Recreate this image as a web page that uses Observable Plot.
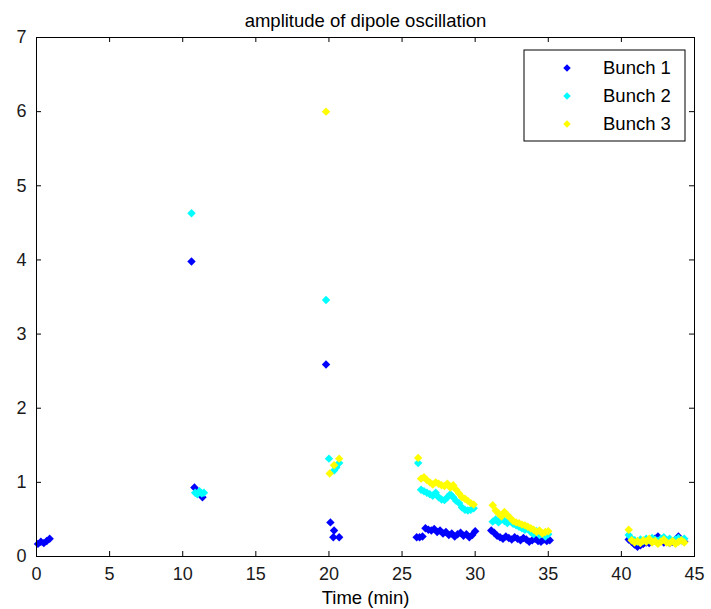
<!DOCTYPE html>
<html>
<head>
<meta charset="utf-8">
<script src="https://cdn.jsdelivr.net/npm/d3@7"></script>
<script src="https://cdn.jsdelivr.net/npm/@observablehq/plot@0.6"></script>
<style>
  html, body { margin: 0; padding: 0; background: #fff; }
  #chart { width: 711px; height: 609px; }
</style>
</head>
<body>
<div id="chart"></div>
<script>
const titleText = "amplitude of dipole oscillation";
const xLabelText = "Time (min)";
const seriesNames = ["Bunch 1", "Bunch 2", "Bunch 3"];
const seriesColors = ["#0000ff", "#00ffff", "#ffff00"];
const xTicks = [0, 5, 10, 15, 20, 25, 30, 35, 40, 45];
const yTicks = [0, 1, 2, 3, 4, 5, 6, 7];

const bunch1Time = [0.1, 0.3, 0.5, 0.7, 0.9, 10.6, 10.8, 11.0, 11.2, 11.35, 19.8, 20.1, 20.35, 20.3, 20.7,
  26.0, 26.2, 26.4, 26.6, 26.8, 27.0, 27.2, 27.4, 27.6, 27.8, 28.0, 28.2, 28.4, 28.6, 28.8, 29.0, 29.2, 29.4, 29.6, 29.8, 30.0,
  31.1, 31.3, 31.5, 31.7, 31.9, 32.1, 32.3, 32.5, 32.7, 32.9, 33.1, 33.3, 33.5, 33.7, 33.9, 34.1, 34.3, 34.5, 34.7, 34.9, 35.1,
  40.5, 40.7, 40.9, 41.1, 41.3, 41.5, 41.7, 41.9, 42.1, 42.3, 42.5, 42.7, 42.9, 43.1, 43.3, 43.5, 43.7, 43.9, 44.1, 44.3];
const bunch1Value = [0.17, 0.20, 0.18, 0.21, 0.24, 3.98, 0.93, 0.87, 0.84, 0.80, 2.59, 0.46, 0.35, 0.26, 0.26,
  0.26, 0.26, 0.27, 0.38, 0.36, 0.35, 0.37, 0.33, 0.35, 0.31, 0.33, 0.29, 0.31, 0.27, 0.30, 0.32, 0.28, 0.30, 0.26, 0.29, 0.34,
  0.35, 0.32, 0.28, 0.26, 0.24, 0.27, 0.25, 0.23, 0.26, 0.24, 0.22, 0.25, 0.23, 0.20, 0.22, 0.24, 0.21, 0.20, 0.23, 0.21, 0.22,
  0.23, 0.20, 0.16, 0.13, 0.15, 0.17, 0.19, 0.18, 0.21, 0.24, 0.27, 0.22, 0.19, 0.21, 0.18, 0.20, 0.23, 0.27, 0.22, 0.20];

const bunch2Time = [10.6, 10.85, 11.0, 11.15, 11.3, 11.45, 19.8, 20.0, 20.35, 20.5, 20.7,
  26.1, 26.3, 26.5, 26.7, 26.9, 27.1, 27.3, 27.5, 27.7, 27.9, 28.1, 28.3, 28.5, 28.7, 28.9, 29.1, 29.3, 29.5, 29.7, 29.9,
  31.2, 31.4, 31.6, 31.8, 32.0, 32.2, 32.4, 32.6, 32.8, 33.0, 33.2, 33.4, 33.6, 33.8, 34.0, 34.2, 34.4, 34.6, 34.8, 35.0,
  40.5, 40.7, 40.9, 41.1, 41.3, 41.5, 41.7, 41.9, 42.1, 42.3, 42.5, 42.7, 42.9, 43.1, 43.3, 43.5, 43.7, 43.9, 44.1, 44.3];
const bunch2Value = [4.63, 0.86, 0.84, 0.88, 0.85, 0.86, 3.46, 1.32, 1.16, 1.20, 1.26,
  1.26, 0.90, 0.88, 0.86, 0.84, 0.82, 0.86, 0.80, 0.77, 0.76, 0.80, 0.84, 0.80, 0.75, 0.72, 0.66, 0.63, 0.62, 0.63, 0.65,
  0.47, 0.50, 0.46, 0.52, 0.48, 0.45, 0.50, 0.44, 0.42, 0.40, 0.38, 0.36, 0.38, 0.33, 0.30, 0.34, 0.29, 0.31, 0.27, 0.30,
  0.29, 0.24, 0.22, 0.20, 0.23, 0.21, 0.24, 0.22, 0.25, 0.23, 0.21, 0.24, 0.26, 0.22, 0.24, 0.21, 0.23, 0.25, 0.22, 0.24];

const bunch3Time = [19.8, 20.05, 20.35, 20.7,
  26.1, 26.3, 26.5, 26.7, 26.9, 27.1, 27.3, 27.5, 27.7, 27.9, 28.1, 28.3, 28.5, 28.7, 28.9, 29.1, 29.3, 29.5, 29.7, 29.9,
  31.2, 31.4, 31.6, 31.8, 32.0, 32.2, 32.4, 32.6, 32.8, 33.0, 33.2, 33.4, 33.6, 33.8, 34.0, 34.2, 34.4, 34.6, 34.8, 35.0,
  40.5, 40.7, 40.9, 41.1, 41.3, 41.5, 41.7, 41.9, 42.1, 42.3, 42.5, 42.7, 42.9, 43.1, 43.3, 43.5, 43.7, 43.9, 44.1, 44.3];
const bunch3Value = [6.0, 1.12, 1.23, 1.32,
  1.33, 1.05, 1.07, 1.03, 1.00, 0.97, 1.00, 0.98, 0.96, 0.95, 0.98, 0.93, 0.96, 0.90, 0.85, 0.80, 0.78, 0.75, 0.72, 0.70,
  0.69, 0.62, 0.58, 0.54, 0.60, 0.56, 0.52, 0.48, 0.46, 0.45, 0.43, 0.42, 0.40, 0.38, 0.36, 0.33, 0.35, 0.31, 0.33, 0.34,
  0.36, 0.22, 0.19, 0.21, 0.18, 0.22, 0.20, 0.24, 0.19, 0.21, 0.17, 0.20, 0.23, 0.19, 0.18, 0.21, 0.17, 0.20, 0.22, 0.19];

const seriesTimes = [bunch1Time, bunch2Time, bunch3Time];
const seriesValues = [bunch1Value, bunch2Value, bunch3Value];
const data = seriesNames.flatMap((name, i) =>
  seriesTimes[i].map((t, j) => ({bunch: name, t, v: seriesValues[i][j]})));

const W = 711, H = 609;
const mL = 36, mR = 17, mT = 37, mB = 53;
const plotH = H - mT - mB, plotW = W - mL - mR;
const tick = 5;
const dotR = 3.8;
const font = "'Liberation Sans', Arial, sans-serif";

const chart = Plot.plot({
  width: W, height: H,
  marginLeft: mL, marginRight: mR, marginTop: mT, marginBottom: mB,
  style: {fontFamily: font, fontSize: "18px", color: "#1a1a1a", background: "#fff", overflow: "visible"},
  x: {domain: [0, 45], ticks: xTicks, label: null},
  y: {domain: [0, 7], ticks: yTicks, label: null},
  color: {domain: seriesNames, range: seriesColors},
  marks: [
    Plot.dot(data, {x: "t", y: "v", fill: "bunch", symbol: "diamond2", r: dotR, stroke: "none"}),
    Plot.frame({stroke: "#000", strokeWidth: 1}),
    Plot.tickX(xTicks, {x: d => d, insetTop: plotH - tick, stroke: "#000"}),
    Plot.tickX(xTicks, {x: d => d, insetBottom: plotH - tick, stroke: "#000"}),
    Plot.tickY(yTicks, {y: d => d, insetRight: plotW - tick, stroke: "#000"}),
    Plot.tickY(yTicks, {y: d => d, insetLeft: plotW - tick, stroke: "#000"}),
    Plot.axisX(xTicks, {tickSize: 0, tickPadding: 11, fontSize: 18, tickFormat: d3.format("d")}),
    Plot.axisY(yTicks, {tickSize: 0, tickPadding: 10, fontSize: 18, tickFormat: d3.format("d")}),
    Plot.text([titleText], {frameAnchor: "top", dy: -24, fontSize: 18.5, fill: "#000"}),
    Plot.text([xLabelText], {frameAnchor: "bottom", dy: 47, fontSize: 18.5, fill: "#000"})
  ]
});
document.getElementById("chart").appendChild(chart);

// Legend (MATLAB-style box, upper right)
const svg = d3.select(chart);
const lg = svg.append("g").attr("font-family", font).attr("font-size", 18.5).attr("text-anchor", "start");
lg.append("rect").attr("x", 524).attr("y", 50).attr("width", 161).attr("height", 91)
  .attr("fill", "#fff").attr("stroke", "#000");
const diamond = d3.symbol(d3.symbolDiamond2, Math.PI * 3.4 * 3.4);
seriesNames.forEach((name, i) => {
  const cy = 68 + i * 28;
  lg.append("path").attr("d", diamond()).attr("transform", `translate(567,${cy})`).attr("fill", seriesColors[i]);
  lg.append("text").attr("x", 603).attr("y", cy).attr("dy", "0.35em").attr("text-anchor", "start").attr("fill", "#000").text(name);
});
</script>
</body>
</html>
